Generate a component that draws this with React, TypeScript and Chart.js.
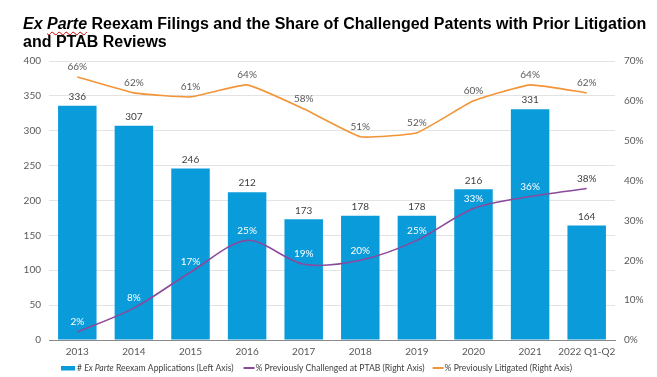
import React, { useEffect, useRef } from "react";
import { Chart, registerables } from "chart.js";

Chart.register(...registerables);

const categories = ["2013", "2014", "2015", "2016", "2017", "2018", "2019", "2020", "2021", "2022 Q1-Q2"];
const applications = [336, 307, 246, 212, 173, 178, 178, 216, 331, 164];
const ptabShare = [2, 8, 17, 25, 19, 20, 25, 33, 36, 38];
const litigatedShare = [66, 62, 61, 64, 58, 51, 52, 60, 64, 62];
const leftAxisMax = 400;
const leftAxisStep = 50;
const rightAxisMax = 70;
const rightAxisStep = 10;

const BLUE = "#0A9BDB";
const PURPLE = "#8B4A9B";
const ORANGE = "#F29437";
const TICK_COLOR = "#595959";
const LABEL_COLOR = "#404040";
const FONT = "Lato, 'Open Sans', sans-serif";

const labelsPlugin = {
  id: "valueLabels",
  afterDatasetsDraw(chart: any) {
    const ctx = chart.ctx;
    ctx.save();
    ctx.font = `10px ${FONT}`;
    ctx.textAlign = "center";
    ctx.textBaseline = "middle";
    const barMeta = chart.getDatasetMeta(0);
    const ptabMeta = chart.getDatasetMeta(1);
    const litMeta = chart.getDatasetMeta(2);
    barMeta.data.forEach((el: any, i: number) => {
      ctx.fillStyle = LABEL_COLOR;
      ctx.fillText(String(applications[i]), el.x, el.y - 9);
    });
    litMeta.data.forEach((el: any, i: number) => {
      ctx.fillStyle = "#595959";
      ctx.fillText(litigatedShare[i] + "%", el.x, el.y - 10);
    });
    ptabMeta.data.forEach((el: any, i: number) => {
      const ly = el.y - 10;
      const barTop = barMeta.data[i].y;
      ctx.fillStyle = ly - 5 > barTop ? "#ffffff" : LABEL_COLOR;
      ctx.fillText(ptabShare[i] + "%", el.x, ly);
    });
    ctx.restore();
  },
};

const legendPlugin = {
  id: "customLegend",
  afterDraw(chart: any) {
    const ctx = chart.ctx;
    ctx.save();
    const y = 368;
    const size = 8.6;
    const normal = `${size}px ${FONT}`;
    const italic = `italic ${size}px ${FONT}`;
    ctx.textBaseline = "middle";
    ctx.textAlign = "left";
    let x = 61;
    ctx.fillStyle = BLUE;
    ctx.fillRect(x, y - 2, 14, 4.5);
    x += 16;
    ctx.fillStyle = "#404040";
    const parts: [string, string][] = [
      ["# ", normal],
      ["Ex Parte", italic],
      [" Reexam Applications (Left Axis)", normal],
    ];
    parts.forEach(([t, f]) => {
      ctx.font = f;
      ctx.fillText(t, x, y);
      x += ctx.measureText(t).width;
    });
    x += 10;
    const lineItem = (color: string, text: string) => {
      ctx.strokeStyle = color;
      ctx.lineWidth = 2;
      ctx.beginPath();
      ctx.moveTo(x, y);
      ctx.lineTo(x + 11, y);
      ctx.stroke();
      x += 12;
      ctx.font = normal;
      ctx.fillStyle = "#404040";
      ctx.fillText(text, x, y);
      x += ctx.measureText(text).width + 8;
    };
    lineItem(PURPLE, "% Previously Challenged at PTAB (Right Axis)");
    lineItem(ORANGE, "% Previously Litigated (Right Axis)");
    ctx.restore();
  },
};

function ChartCanvas() {
  const ref = useRef<HTMLCanvasElement | null>(null);
  useEffect(() => {
    if (!ref.current) return;
    const chart = new Chart(ref.current, {
      type: "bar",
      data: {
        labels: categories,
        datasets: [
          {
            type: "bar",
            label: "# Ex Parte Reexam Applications (Left Axis)",
            data: applications,
            backgroundColor: BLUE,
            yAxisID: "y",
            order: 3,
            barPercentage: 0.68,
            categoryPercentage: 1,
          },
          {
            type: "line",
            label: "% Previously Challenged at PTAB (Right Axis)",
            data: ptabShare,
            borderColor: PURPLE,
            backgroundColor: PURPLE,
            borderWidth: 1.6,
            pointRadius: 0,
            tension: 0.3,
            yAxisID: "y1",
            order: 1,
          },
          {
            type: "line",
            label: "% Previously Litigated (Right Axis)",
            data: litigatedShare,
            borderColor: ORANGE,
            backgroundColor: ORANGE,
            borderWidth: 1.6,
            pointRadius: 0,
            tension: 0.12,
            yAxisID: "y1",
            order: 2,
          },
        ] as any,
      },
      options: {
        animation: false,
        responsive: false,
        maintainAspectRatio: false,
        layout: { padding: { top: 61, left: 0, right: 0, bottom: 0 } },
        plugins: {
          legend: { display: false },
          tooltip: { enabled: false },
          title: { display: false },
        },
        scales: {
          x: {
            grid: { display: false, drawTicks: false },
            border: { display: true, color: "#8a8a8a", width: 1 },
            ticks: { color: TICK_COLOR, font: { family: FONT, size: 10 }, padding: 6, maxRotation: 0, autoSkip: false },
            afterFit: (s: any) => {
              s.height = 37;
            },
          },
          y: {
            position: "left",
            min: 0,
            max: leftAxisMax,
            grid: { color: "#e3e3e3", drawTicks: false },
            border: { display: false },
            ticks: { stepSize: leftAxisStep, color: TICK_COLOR, font: { family: FONT, size: 10 }, padding: 8 },
            afterFit: (s: any) => {
              s.width = 49;
            },
          },
          y1: {
            position: "right",
            min: 0,
            max: rightAxisMax,
            grid: { display: false, drawTicks: false },
            border: { display: false },
            ticks: {
              stepSize: rightAxisStep,
              color: TICK_COLOR,
              font: { family: FONT, size: 10 },
              padding: 9,
              callback: (v: any) => v + "%",
            },
            afterFit: (s: any) => {
              s.width = 42;
            },
          },
        },
      } as any,
      plugins: [labelsPlugin, legendPlugin],
    });
    return () => chart.destroy();
  }, []);
  return <canvas ref={ref} width={657} height={377} style={{ position: "absolute", left: 0, top: 0, width: 657, height: 377 }} />;
}

export default function App() {
  useEffect(() => {
    document.body.style.margin = "0";
  }, []);
  return (
    <div style={{ position: "fixed", left: 0, top: 0, width: 657, height: 377, background: "#ffffff", overflow: "hidden" }}>
      <ChartCanvas />
      <div
        style={{
          position: "absolute",
          left: 23,
          top: 15,
          fontFamily: "'Liberation Sans', Arial, sans-serif",
          fontWeight: "bold",
          fontSize: 16,
          lineHeight: "18px",
          color: "#000",
          whiteSpace: "nowrap",
        }}
      >
        <span style={{ fontStyle: "italic" }}>
          Ex{" "}
          <span style={{ textDecoration: "underline wavy #d00000", textDecorationThickness: 1, textUnderlineOffset: 2 }}>
            Parte
          </span>
        </span>{" "}
        Reexam Filings and the Share of Challenged Patents with Prior Litigation
        <br />
        and PTAB Reviews
      </div>
    </div>
  );
}
